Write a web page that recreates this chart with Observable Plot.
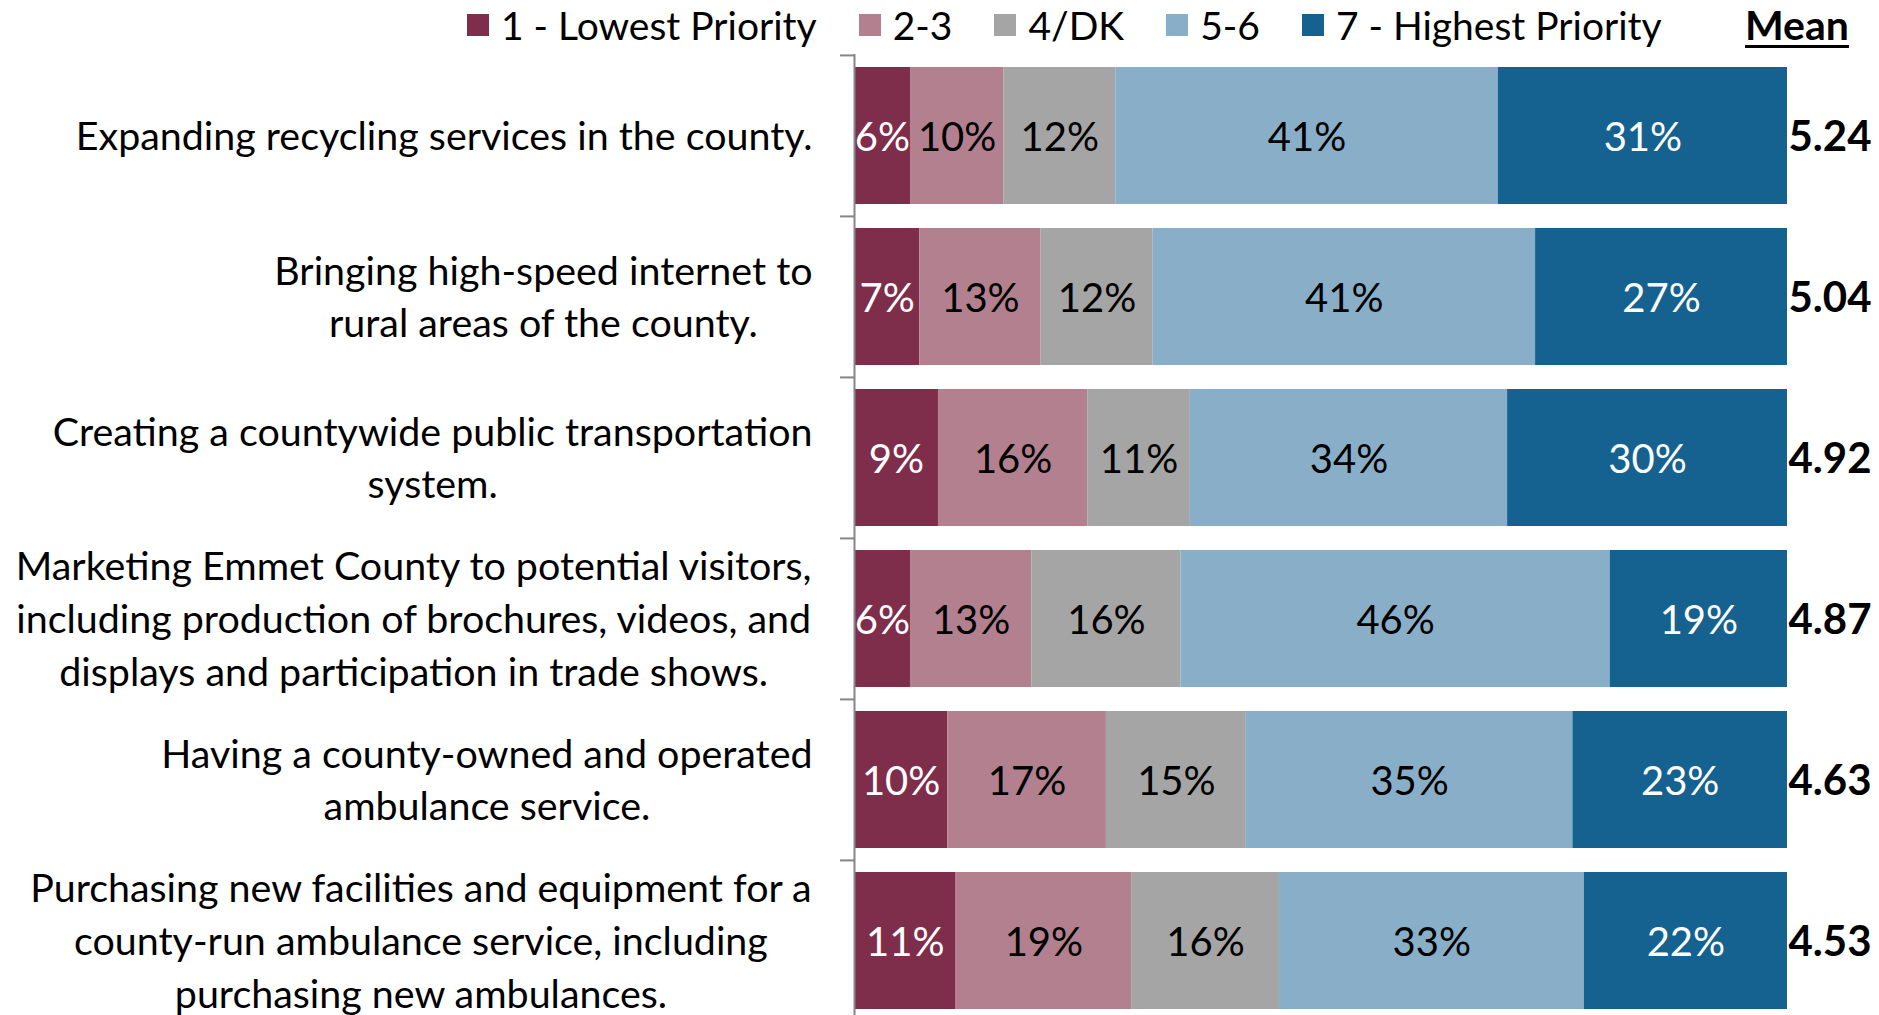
<!DOCTYPE html>
<html><head><meta charset="utf-8">
<script src="https://cdn.jsdelivr.net/npm/d3@7"></script>
<script src="https://cdn.jsdelivr.net/npm/@observablehq/plot@0.6"></script>
<style>
html,body{margin:0;padding:0;background:#fff;overflow:hidden;width:1879px;height:1015px;}
body{font-family:Lato,"Noto Sans",sans-serif;color:#000;}
#legend{position:relative;height:54px;width:1879px;}
#items{position:absolute;left:467px;top:0;height:50px;display:flex;align-items:center;gap:42px;font-size:39px;}
.item{display:flex;align-items:center;white-space:nowrap;}
.sw{width:22px;height:22px;margin-right:12px;}
#mean{position:absolute;left:1745px;top:0;height:50px;line-height:50px;font-size:41px;font-weight:bold;text-decoration:underline;text-underline-offset:5px;text-decoration-thickness:3px;}
</style></head><body>
<div id="legend"><div id="items"></div><div id="mean">Mean</div></div>
<div id="chart"></div>
<script>
const items = [
  "Expanding recycling services in the county.",
  "Bringing high-speed internet to\nrural areas of the county.",
  "Creating a countywide public transportation\nsystem.",
  "Marketing Emmet County to potential visitors,\nincluding production of brochures, videos, and\ndisplays and participation in trade shows.",
  "Having a county-owned and operated\nambulance service.",
  "Purchasing new facilities and equipment for a\ncounty-run ambulance service, including\npurchasing new ambulances."
];
const categories = ["1 - Lowest Priority", "2-3", "4/DK", "5-6", "7 - Highest Priority"];
const colors = ["#7e2d4b", "#b2808f", "#a5a5a5", "#89afc8", "#156190"];
const lowest  = [6, 7, 9, 6, 10, 11];
const low     = [10, 13, 16, 13, 17, 19];
const neutral = [12, 12, 11, 16, 15, 16];
const high    = [41, 41, 34, 46, 35, 33];
const highest = [31, 27, 30, 19, 23, 22];
const means   = [5.24, 5.04, 4.92, 4.87, 4.63, 4.53];

const FONT = "Lato";
const FS = 39.4;
const series = [lowest, low, neutral, high, highest];
const whiteCats = [categories[0], categories[4]];

// legend
const legendEl = document.getElementById("items");
categories.forEach((c, j) => {
  const it = document.createElement("div");
  it.className = "item";
  it.innerHTML = `<span class="sw" style="background:${colors[j]}"></span><span>${c}</span>`;
  legendEl.appendChild(it);
});

const data = items.flatMap((item, i) => categories.map((cat, j) => ({item, cat, value: series[j][i]})));
const meanData = items.map((item, i) => ({item, mean: means[i]}));

const height = 967;
const step = height / items.length;

const canvas = document.createElement("canvas");
const ctx = canvas.getContext("2d");
ctx.font = `${FS}px ${FONT}`;
const blockWidth = s => Math.max(...s.split("\n").map(l => ctx.measureText(l).width));

const stackOpts = {x: "value", y: "item", order: categories, offset: "normalize"};

const labelMarks = items.map(item => Plot.text([item], {
  x: () => 0, y: d => d, text: d => d, textAnchor: "middle",
  dx: -(42 + blockWidth(item) / 2), dy: -3, lineHeight: 52.7 / FS, fill: "black", fontSize: FS
}));

const chart = Plot.plot({
  width: 1879, height,
  marginTop: 0, marginBottom: 0, marginLeft: 854, marginRight: 92,
  style: {fontFamily: FONT, fontSize: FS + "px", background: "white", overflow: "visible"},
  x: {domain: [0, 1], axis: null},
  y: {domain: items, paddingInner: 0.15, paddingOuter: 0.075, axis: null},
  color: {domain: categories, range: colors},
  marks: [
    Plot.barX(data, Plot.stackX({...stackOpts, fill: "cat"})),
    Plot.text(data, Plot.stackX({...stackOpts, z: "cat", fill: "white", fontSize: 40, dy: 2,
      text: d => whiteCats.includes(d.cat) ? d.value + "%" : null})),
    Plot.text(data, Plot.stackX({...stackOpts, z: "cat", fill: "black", fontSize: 40, dy: 2,
      text: d => whiteCats.includes(d.cat) ? null : d.value + "%"})),
    Plot.ruleX([0], {stroke: "#868686", strokeWidth: 2}),
    Plot.ruleY(items, {y: d => d, x1: -0.015, x2: 0, dy: -step / 2, stroke: "#868686", strokeWidth: 2}),
    ...labelMarks,
    Plot.text(meanData, {x: () => 1, y: "item", text: d => d.mean.toFixed(2), textAnchor: "start", dx: 1, dy: 2, fontSize: 42, fontWeight: "bold", fill: "black"})
  ]
});
document.getElementById("chart").appendChild(chart);
</script>
</body></html>
